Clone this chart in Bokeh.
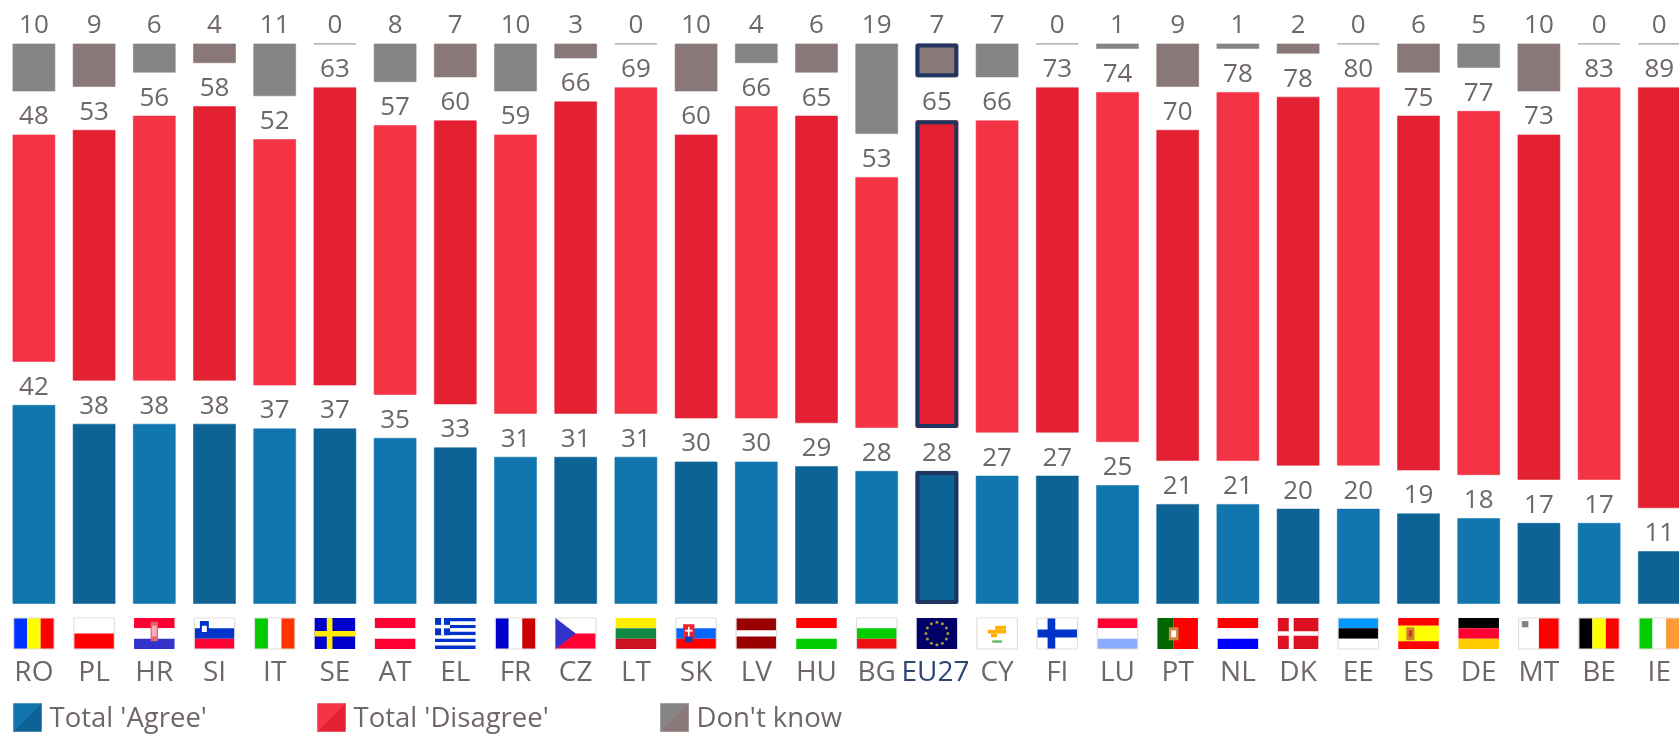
from bokeh.plotting import figure
from bokeh.models import Range1d, LinearAxis, FixedTicker, ColumnDataSource
from bokeh.core.properties import value
from bokeh.embed import file_html
from bokeh.resources import INLINE
import numpy as np

countries = ["RO","PL","HR","SI","IT","SE","AT","EL","FR","CZ","LT","SK","LV","HU","BG","EU27","CY","FI","LU","PT","NL","DK","EE","ES","DE","MT","BE","IE"]
agree     = [42,38,38,38,37,37,35,33,31,31,31,30,30,29,28,28,27,27,25,21,21,20,20,19,18,17,17,11]
disagree  = [48,53,56,58,52,63,57,60,59,66,69,60,66,65,53,65,66,73,74,70,78,78,80,75,77,73,83,89]
dontknow  = [10,9,6,4,11,0,8,7,10,3,0,10,4,6,19,7,7,0,1,9,1,2,0,6,5,10,0,0]

W, H = 1679, 734
SX, SY = 60.2, 4.72       # px per category, px per percentage point
X0, Y0 = 33.4, 603.0      # px of first category centre, px of the zero line
GAP = 43.8 / SY           # blank band between two stacked blocks
BAR = 42 / SX
FONT = "Open Sans"
TXT = "#6E666A"
NAVY = "#1F3560"

p = figure(width=W, height=H, output_backend="svg", toolbar_location=None,
           x_range=Range1d(-X0 / SX, (W - X0) / SX),
           y_range=Range1d((Y0 - H) / SY, Y0 / SY),
           min_border=0, outline_line_color=None, background_fill_color="white",
           x_axis_location=None, y_axis_location=None)
p.styles = {"position": "fixed", "left": "0px", "top": "0px"}
p.grid.visible = False

n = len(countries)
xs = np.arange(n)
a, d, k = map(np.array, (agree, disagree, dontknow))
pal = lambda c0, c1: [c0 if i % 2 == 0 else c1 for i in range(n)]
blue = pal("#1176AE", "#0D6296")
red = pal("#F43345", "#E42033")
grey = pal("#858585", "#8A7777")

red_b = a + GAP
red_t = red_b + d
grey_b = red_t + GAP
grey_t = grey_b + k

edge = dict(line_width=1, line_alpha=0.55)
p.vbar(x=xs, width=BAR, bottom=0, top=a, fill_color=blue, line_color=blue, **edge)
p.vbar(x=xs, width=BAR, bottom=red_b, top=red_t, fill_color=red, line_color=red, **edge)
p.vbar(x=xs, width=BAR, bottom=grey_b, top=grey_t, fill_color=grey, line_color=grey, **edge)

# EU27 highlight
e = countries.index("EU27")
inset = 1.6 / SY
for b, t in ((0, a[e]), (red_b[e], red_t[e]), (grey_b[e], grey_t[e])):
    p.vbar(x=[e], width=BAR - 3.2 / SX, bottom=[b + inset], top=[t - inset],
           fill_color=None, line_color=NAVY, line_width=4)

# value labels
lab = dict(text_font=value(FONT), text_font_size="26px", text_color=TXT,
           text_align="center", text_baseline="alphabetic", y_offset=-19.5)
p.text(x=xs, y=a, text=[str(v) for v in agree], **lab)
p.text(x=xs, y=red_t, text=[str(v) for v in disagree], **lab)
p.text(x=xs, y=grey_t, text=[str(v) for v in dontknow], **lab)

# flags: rectangles in flag units (u: 0 left..1 right, v: 0 top..1 bottom)
def hs(*parts):
    tot = sum(f for _, f in parts); out = []; c = 0
    for col, f in parts:
        out.append((0, c / tot, 1, (c + f) / tot, col)); c += f
    return out
def vs(*parts):
    tot = sum(f for _, f in parts); out = []; c = 0
    for col, f in parts:
        out.append((c / tot, 0, (c + f) / tot, 1, col)); c += f
    return out
W_ = "#FFFFFF"
el = [(0, i / 9, 1, (i + 1) / 9, "#0033CC" if i % 2 == 0 else W_) for i in range(9)] + [
    (0, 0, .37, 5 / 9, "#0033CC"), (.15, 0, .22, 5 / 9, W_), (0, 2 / 9, .37, 3 / 9, W_)]
flags = {
 "RO": vs(("#0033FF",1),("#FFFF00",1),("#FF0000",1)),
 "PL": hs((W_,1),("#FF0000",1)),
 "HR": hs(("#FF0033",1),(W_,1),("#3333CC",1)) + [(.41,.12,.59,.75,"#E8606A"),(.44,.25,.56,.6,"#F2B0B8")],
 "SI": hs((W_,1),("#0033CC",1),("#FF0033",1)) + [(.14,.1,.36,.55,"#0033CC"),(.19,.25,.31,.45,W_)],
 "IT": vs(("#00CC00",1),(W_,1),("#FF3300",1)),
 "SE": [(0,0,1,1,"#0000CC"),(.3,0,.44,1,"#FFEE00"),(0,.42,1,.6,"#FFEE00")],
 "AT": hs(("#FF0033",1),(W_,1),("#FF0033",1)),
 "EL": el,
 "FR": vs(("#0000CC",1),(W_,1),("#CC0000",1)),
 "CZ": hs((W_,1),("#FF0033",1)),
 "LT": hs(("#FFEE00",1),("#118844",1),("#CC1122",1)),
 "SK": hs((W_,1),("#0066FF",1),("#FF0000",1)) + [(.18,.2,.46,.7,"#EE2233"),(.3,.28,.34,.6,W_),(.23,.38,.41,.44,W_),(.23,.6,.41,.78,"#0044BB")],
 "LV": hs(("#990000",2),(W_,1),("#990000",2)),
 "HU": hs(("#FF0000",1),(W_,1),("#00CC00",1)),
 "BG": hs((W_,1),("#00CC00",1),("#EE1111",1)),
 "EU27": [(0,0,1,1,"#000066")],
 "CY": [(0,0,1,1,W_),(.27,.38,.72,.5,"#FFB000"),(.45,.25,.72,.38,"#FFB000"),(.35,.5,.5,.62,"#FFB000"),(.38,.72,.62,.8,"#66BB66")],
 "FI": [(0,0,1,1,W_),(.26,0,.45,1,"#0033CC"),(0,.37,1,.63,"#0033CC")],
 "LU": hs(("#FF0033",1),(W_,1),("#88AAFF",1)),
 "PT": vs(("#006600",2),("#FF0000",3)) + [(.28,.3,.52,.72,"#CC8844"),(.34,.4,.46,.62,W_)],
 "NL": hs(("#FF0000",1),(W_,1),("#0000FF",1)),
 "DK": [(0,0,1,1,"#DD1122"),(.27,0,.39,1,W_),(0,.43,1,.57,W_)],
 "EE": hs(("#0099FF",1),("#000000",1),(W_,1)),
 "ES": hs(("#FF0000",1),("#FFFF00",2),("#FF0000",1)) + [(.2,.3,.4,.72,"#D08030"),(.26,.4,.34,.6,"#D83030")],
 "DE": hs(("#000000",1),("#FF0033",1),("#FFCC00",1)),
 "MT": vs((W_,1),("#FF0000",1)) + [(.08,.1,.24,.3,"#888080")],
 "BE": vs(("#000000",1),("#FFFF00",1),("#FF0000",1)),
 "IE": vs(("#00CC00",1),(W_,1),("#FF9933",1)),
}
bordered = ["RO","PL","SI","IT","FR","CZ","SK","BG","CY","FI","LU","EE","MT","BE","IE","LV"]
FW, FH = 40.5 / SX, 31 / SY
F_TOP = (Y0 - 617.5) / SY
L, R, T, B, C = [], [], [], [], []
for i, c in enumerate(countries):
    x0 = i - FW / 2
    for u0, v0, u1, v1, col in flags[c]:
        L.append(x0 + u0 * FW); R.append(x0 + u1 * FW)
        T.append(F_TOP - v0 * FH); B.append(F_TOP - v1 * FH); C.append(col)
p.quad(left=L, right=R, top=T, bottom=B, fill_color=C, line_color=None)
idx = [countries.index(c) for c in bordered]
p.quad(left=[i - FW / 2 for i in idx], right=[i + FW / 2 for i in idx],
       top=F_TOP, bottom=F_TOP - FH, fill_color=None, line_color="#E4DEDE", line_width=1.2)
# CZ hoist triangle
cz = countries.index("CZ") - FW / 2
p.patch(x=[cz, cz + .5 * FW, cz], y=[F_TOP, F_TOP - FH / 2, F_TOP - FH], fill_color="#3333CC", line_color=None)
# EU circle of stars
ang = np.arange(12) * np.pi / 6
p.scatter(x=e + 0.27 * FW * np.cos(ang), y=F_TOP - FH / 2 + 0.36 * FH * np.sin(ang),
          marker="circle", size=3, fill_color="#AA9933", line_color=None)

# category axis
ax = LinearAxis(ticker=FixedTicker(ticks=list(range(n))),
                major_label_overrides={i: ("" if c == "EU27" else c) for i, c in enumerate(countries)},
                major_tick_line_color=None, minor_tick_line_color=None, axis_line_color=None,
                major_label_text_font=FONT, major_label_text_font_size="28px",
                major_label_text_color=TXT, major_label_standoff=3,
                fixed_location=(Y0 - 641) / SY)
p.add_layout(ax, "below")
AX_BASE = (Y0 - 669) / SY
p.text(x=[e], y=[AX_BASE], text=["EU27"], text_font=value(FONT), text_font_size="28px",
       text_color="#2F4670", text_align="center", text_baseline="alphabetic", x_offset=-1.5)

# legend
legend_labels = ["Total 'Agree'", "Total 'Disagree'", "Don't know"]
legend_cols = [("#1176AE", "#0D6296"), ("#F43345", "#E42033"), ("#858585", "#8A7777")]
key_px = [13, 317, 660]
K = 28
ky0, ky1 = (Y0 - 703) / SY, (Y0 - 731) / SY
for px, txt, (c0, c1) in zip(key_px, legend_labels, legend_cols):
    x0 = (px - X0) / SX; x1 = (px + K - X0) / SX
    p.patch(x=[x0, x1, x0], y=[ky0, ky0, ky1], fill_color=c0, line_color=c0, line_width=0.5)
    p.patch(x=[x1, x1, x0], y=[ky0, ky1, ky1], fill_color=c1, line_color=c1, line_width=0.5)
    p.text(x=[(px + K + 8 - X0) / SX], y=[(Y0 - 716) / SY], text=[txt], text_font=value(FONT),
           text_font_size="27.5px", text_color=TXT, text_align="left", text_baseline="alphabetic")

open("out.html", "w").write(file_html(p, INLINE))
